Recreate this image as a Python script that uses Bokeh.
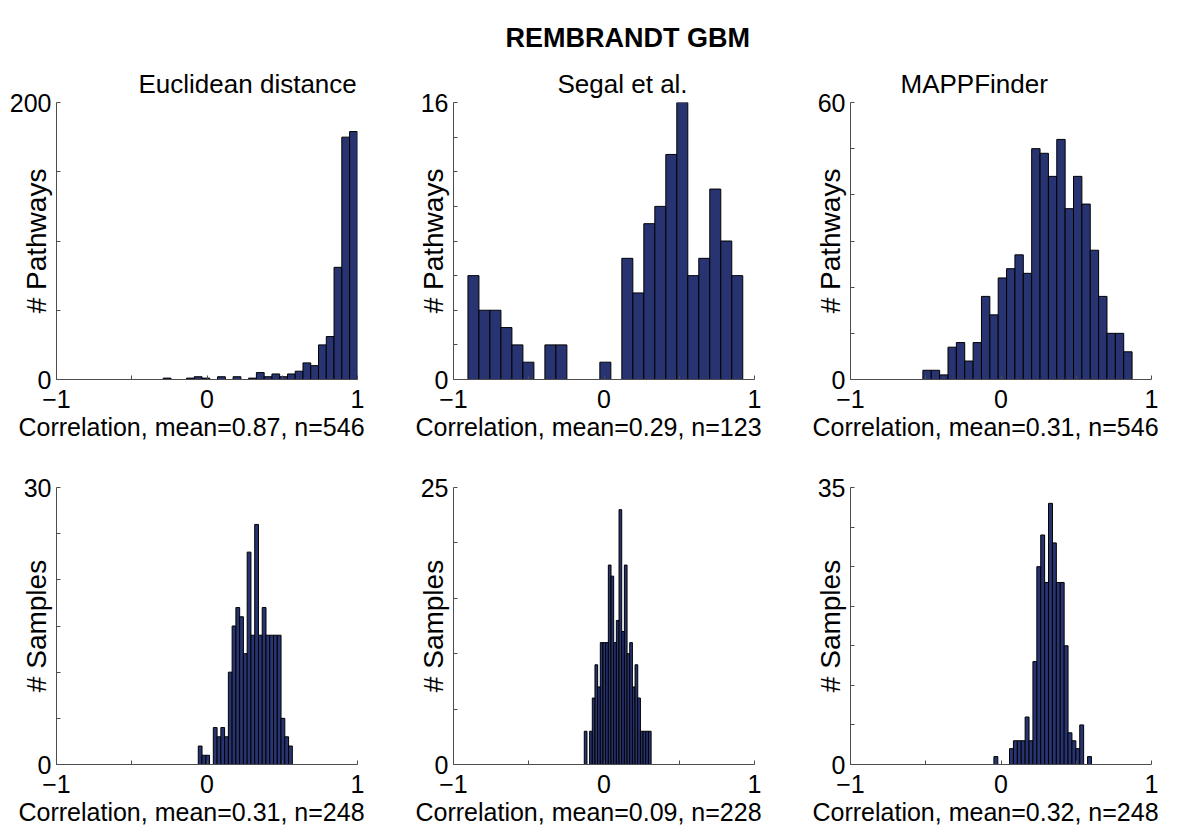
import numpy as np
from bokeh.plotting import figure
from bokeh.layouts import column, row
from bokeh.models import Range1d, FixedTicker, Title
from bokeh.embed import file_html
from bokeh.resources import INLINE

# ---- data: histogram counts (25 bins each) and the span the bins cover ----
methods = ["Euclidean distance", "Segal et al.", "MAPPFinder"]

euclid_pathways = [1, 0, 0, 1, 2, 1, 0, 2, 0, 2, 0, 1, 5, 2, 4, 2, 4, 6, 12, 10, 25, 31, 81, 175, 179]
segal_pathways = [6, 4, 4, 3, 2, 1, 0, 2, 2, 0, 0, 0, 1, 0, 7, 5, 9, 10, 13, 16, 6, 7, 11, 8, 6]
mapp_pathways = [2, 2, 1, 7, 8, 4, 8, 18, 14, 22, 24, 27, 23, 50, 49, 44, 52, 37, 44, 38, 28, 18, 10, 10, 6]

euclid_samples = [2, 1, 1, 0, 4, 3, 4, 3, 10, 15, 17, 16, 12, 23, 14, 26, 14, 17, 14, 14, 14, 14, 5, 3, 2]
segal_samples = [3, 0, 3, 6, 9, 7, 11, 11, 11, 18, 17, 11, 13, 23, 12, 18, 10, 11, 7, 9, 6, 3, 3, 3, 3]
mapp_samples = [1, 0, 0, 0, 2, 3, 3, 3, 6, 3, 13, 25, 29, 23, 33, 28, 23, 23, 15, 4, 3, 2, 5, 0, 1]

# (min, max) correlation of each distribution = outer edges of its bins
range_pathways = [(-0.291, 0.999), (-0.904, 0.922), (-0.519, 0.871)]
range_samples = [(-0.058, 0.567), (-0.131, 0.313), (-0.047, 0.601)]

means_pathways = ["0.87", "0.29", "0.31"]
means_samples = ["0.31", "0.09", "0.32"]

ymax_pathways = [200, 16, 60]
ystep_pathways = [50, 2, 10]
ymax_samples = [30, 25, 35]
ystep_samples = [5, 5, 5]

x_ticks = [-1, -0.5, 0, 0.5, 1]
x_tick_labels = {-1: "\u22121", -0.5: "", 0: "0", 0.5: "", 1: "1"}

# ---- styling ----
FONT = "Liberation Sans"
TICK_FS = "25px"
TITLE_FS = 26
XLABEL_FS = 25
YLABEL_FS = 28
BAR_FILL = "#283472"
AXIS_COLOR = "#4d4d4d"
FRAME_W, FRAME_H = 301, 277
TITLE_LEFT = [82, 104, 50]      # left edge of each method title, from frame left


def panel(counts, span, ymax, ystep, ylabel, mean, top_row, col):
    n = int(sum(counts))
    edges = np.linspace(span[0], span[1], len(counts) + 1)
    right_border = 47 if col == 2 else 40
    p = figure(
        frame_width=FRAME_W, frame_height=FRAME_H,
        min_border_left=56, min_border_right=right_border,
        min_border_top=102 if top_row else 42,
        min_border_bottom=66,
        x_range=Range1d(-1, 1), y_range=Range1d(0, ymax),
        output_backend="svg", toolbar_location=None, tools="",
        title=None,
    )
    p.quad(left=edges[:-1], right=edges[1:], bottom=0, top=counts,
           fill_color=BAR_FILL, line_color="black", line_width=1)

    p.xgrid.visible = False
    p.ygrid.visible = False
    p.outline_line_color = None
    p.background_fill_color = "white"
    p.border_fill_color = "white"

    xa = p.xaxis[0]
    xa.ticker = FixedTicker(ticks=x_ticks)
    xa.major_label_overrides = x_tick_labels

    yticks = list(range(0, ymax + 1, ystep))
    ya = p.yaxis[0]
    ya.ticker = FixedTicker(ticks=yticks)
    ya.major_label_overrides = {t: (str(t) if t in (0, ymax) else "") for t in yticks}
    ya.axis_label = ylabel
    ya.axis_label_text_font_size = f"{YLABEL_FS}px"
    # pull the rotated label in over the (short) tick-label column
    label_w = len(str(ymax)) * 0.556 * 25
    ya.axis_label_standoff = int(round(-label_w - 3))

    for ax in (xa, ya):
        ax.axis_line_color = AXIS_COLOR
        ax.major_tick_line_color = AXIS_COLOR
        ax.major_tick_in = 4
        ax.major_tick_out = 0
        ax.minor_tick_line_color = None
        ax.major_label_text_font = FONT
        ax.major_label_text_font_size = TICK_FS
        ax.major_label_text_color = "black"
        ax.axis_label_text_font = FONT
        ax.axis_label_text_font_style = "normal"
        ax.axis_label_text_color = "black"
    xa.major_label_standoff = 10
    ya.major_label_standoff = 5

    # x label as a caption under the axis, starting a little left of the frame
    p.add_layout(Title(text=f"Correlation, mean={mean}, n={n}", align="left", offset=-38,
                       text_font=FONT, text_font_size=f"{XLABEL_FS}px",
                       text_font_style="normal", text_color="black",
                       standoff=0), "below")

    if top_row:
        p.add_layout(Title(text=methods[col], align="left", offset=TITLE_LEFT[col],
                           text_font=FONT, text_font_size=f"{TITLE_FS}px",
                           text_font_style="normal", text_color="black",
                           standoff=7), "above")
    return p


top = [panel(c, s, m, st, "# Pathways", mu, True, i) for i, (c, s, m, st, mu) in enumerate(
    zip([euclid_pathways, segal_pathways, mapp_pathways], range_pathways,
        ymax_pathways, ystep_pathways, means_pathways))]
bottom = [panel(c, s, m, st, "# Samples", mu, False, i) for i, (c, s, m, st, mu) in enumerate(
    zip([euclid_samples, segal_samples, mapp_samples], range_samples,
        ymax_samples, ystep_samples, means_samples))]

top[1].add_layout(Title(text="REMBRANDT GBM", align="left", offset=52,
                        text_font=FONT, text_font_size="27px",
                        text_font_style="bold", text_color="black",
                        standoff=22), "above")

layout = column(row(*top), row(*bottom))
open("out.html", "w").write(file_html(layout, INLINE))
